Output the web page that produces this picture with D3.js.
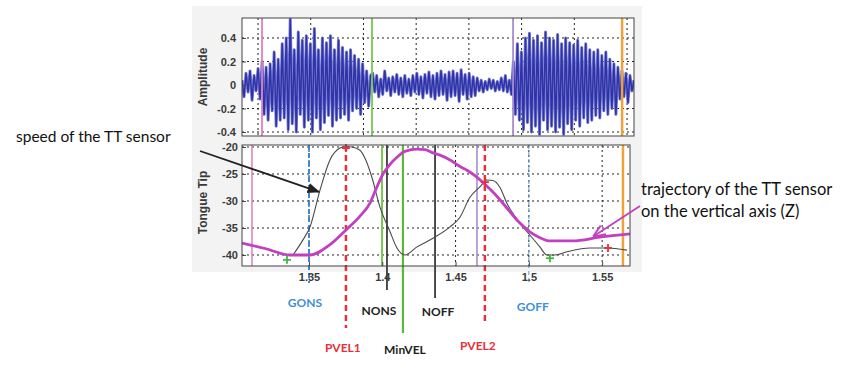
<!DOCTYPE html>
<html><head><meta charset="utf-8">
<script src="https://cdn.jsdelivr.net/npm/d3@7"></script>
<style>body{margin:0;background:#fff}svg{display:block}</style>
</head><body><div id="chart"></div>
<script>
// ---------- DATA ----------
// Top panel: audio waveform amplitude (successive extremes, evenly sampled)
const amplitude = [
 0.04,-0.10,0.10,-0.06,0.12,-0.13,0.08,-0.05,0.14,-0.12,
 0.20,-0.25,0.15,-0.30,0.18,-0.22,0.28,-0.35,0.22,-0.30,
 0.35,-0.28,0.40,-0.38,0.56,-0.33,0.30,-0.40,0.45,-0.25,
 0.38,-0.36,0.42,-0.30,0.35,-0.40,0.48,-0.28,0.30,-0.38,
 0.40,-0.32,0.36,-0.26,0.42,-0.35,0.30,-0.30,0.38,-0.28,
 0.32,-0.25,0.28,-0.30,0.30,-0.22,0.25,-0.20,0.22,-0.25,
 0.18,-0.15,0.12,-0.18,0.08,
 0.10,-0.06,0.08,-0.10,0.05,-0.08,0.12,-0.05,0.06,-0.09,
 0.07,-0.06,0.09,-0.08,0.06,-0.10,0.08,-0.07,0.05,-0.09,
 0.08,-0.06,0.10,-0.08,0.07,-0.11,0.09,-0.07,0.11,-0.10,
 0.08,-0.12,0.10,-0.09,0.12,-0.08,0.09,-0.13,0.11,-0.10,
 0.12,-0.09,0.10,-0.14,0.13,-0.08,0.09,-0.12,0.10,-0.10,
 0.07,-0.09,0.06,-0.05,0.04,-0.06,0.03,-0.04,0.05,-0.03,
 0.04,-0.05,0.03,-0.04,0.06,-0.05,0.08,-0.06,0.04,-0.08,
 0.20,-0.25,0.35,-0.30,0.28,-0.38,0.40,-0.32,0.44,-0.40,
 0.38,-0.35,0.42,-0.42,0.36,-0.30,0.45,-0.38,0.40,-0.35,
 0.38,-0.40,0.43,-0.36,0.35,-0.42,0.40,-0.33,0.36,-0.38,
 0.34,-0.30,0.38,-0.35,0.32,-0.28,0.35,-0.32,0.30,-0.30,
 0.28,-0.26,0.30,-0.28,0.25,-0.22,0.28,-0.25,0.22,-0.20,
 0.18,-0.25,0.15,-0.12,
 0.12,-0.10,0.10,-0.15,0.08,-0.05,0.04
];
const topTimeDomain = [1.2848, 1.6566];
const topGridTimes = [1.30,1.35,1.40,1.45,1.50,1.55,1.60,1.65];
const ampTicks = [0.4,0.2,0,-0.2,-0.4];
const ampTickLabels = ["0.4","0.2","0","-0.2","-0.4"];
const topMarkerTimes = [1.3038, 1.4081, 1.5419, 1.6453];
const topMarkerColors = ["#e07fbf","#77c94f","#a98bd0","#f0a23a"];

// Bottom panel: tongue tip trajectory (magenta) and speed (black)
const trajTime = [1.3043,1.32,1.337,1.3507,1.3643,1.3759,1.3848,1.3916,1.3957,1.4005,1.4053,1.41,1.4155,1.4237,1.4291,1.4346,1.4394,1.4462,1.453,1.4578,1.4632,1.47,1.4768,1.485,1.4925,1.5007,1.5076,1.5144,1.53,1.5485,1.569];
const trajValue = [-37.8,-38.8,-40.0,-40.0,-38.1,-35.2,-32.8,-30.4,-27.8,-25.0,-23.2,-21.9,-20.8,-20.4,-20.5,-21.1,-21.5,-22.4,-23.6,-24.3,-25.3,-26.9,-28.7,-31.3,-33.7,-35.7,-36.8,-37.4,-37.4,-36.7,-36.1];
const speedTime = [1.3391,1.3459,1.3507,1.3575,1.3643,1.3711,1.3752,1.3793,1.3848,1.3889,1.393,1.3984,1.4053,1.41,1.4155,1.4237,1.4346,1.4462,1.453,1.4598,1.4666,1.4714,1.4755,1.4803,1.485,1.4939,1.5007,1.5075,1.5123,1.5177,1.526,1.5417,1.5533,1.5669];
const speedValue = [-40.0,-37.2,-34.8,-28.0,-22.4,-20.2,-19.9,-20.0,-20.6,-22.5,-25.7,-31.1,-35.7,-38.7,-40.0,-38.5,-36.9,-34.8,-33.0,-29.3,-27.4,-26.1,-26.2,-27.5,-30.4,-34.1,-36.3,-38.5,-40.0,-40.0,-39.4,-38.7,-38.7,-39.1];
const bottomTimeDomain = [1.3043, 1.569];
const timeTicks = [1.35,1.40,1.45,1.50,1.55];
const timeTickLabels = ["1.35","1.4","1.45","1.5","1.55"];
const ttTicks = [-20,-25,-30,-35,-40];
const ttTickLabels = ["-20","-25","-30","-35","-40"];

// plus-markers on the speed curve
const markTime  = [1.335, 1.3752, 1.47, 1.5144, 1.554];
const markValue = [-40.9, -20.2, -26.5, -40.6, -38.7];
const markColor = ["#3fb83f","#e8303a","#e8303a","#3fb83f","#e8303a"];

// event lines in bottom panel
const eventTime  = [1.3111, 1.35, 1.3752, 1.3998, 1.4032, 1.4141, 1.436, 1.4646, 1.47, 1.5, 1.5642];
const eventLabel = ["", "GONS", "PVEL1", "", "NONS", "MinVEL", "NOFF", "", "PVEL2", "GOFF", ""];
const eventColor = ["#e07fbf","#3f86d0","#e8303a","#77c94f","#222","#5cb83c","#222","#a98bd0","#e8303a","#5b9bd8","#f0a23a"];
const eventWidth = [1.5, 2, 2.5, 2, 1.6, 2.2, 1.6, 1.6, 2.5, 1, 2.5];
const eventDash  = ["", "5,3", "6,4", "", "", "", "", "", "6,4", "4,3", ""];
const eventExtend= [0, 17, 62, 0, 24, 67, 32, 0, 59, 17, 0];
const labelY     = [0, 307, 352, 0, 315, 354, 316, 0, 350, 311, 0];
const labelDx    = [0, -4, -3, 0, -8, 2, 3, 0, -7, 4, 0];

// ---------- DRAW ----------
const W = 850, H = 370;
const svg = d3.select("#chart").append("svg").attr("width", W).attr("height", H);

svg.append("rect").attr("x",192).attr("y",6).attr("width",450).attr("height",266).attr("fill","#f3f3f3");

const pTop = {l:242, r:634, t:18, b:136};
const pBot = {l:242, r:630, t:145, b:266};

const xTop = d3.scaleLinear().domain(topTimeDomain).range([pTop.l, pTop.r]);
const xIdx = d3.scaleLinear().domain([0, amplitude.length-1]).range([pTop.l, pTop.r]);
const yAmp = d3.scaleLinear().domain([-0.434, 0.570]).range([pTop.b, pTop.t]);
const xBot = d3.scaleLinear().domain(bottomTimeDomain).range([pBot.l, pBot.r]);
const yTT  = d3.scaleLinear().domain([-42.04, -19.63]).range([pBot.b, pBot.t]);

const defs = svg.append("defs");
defs.append("clipPath").attr("id","cTop").append("rect").attr("x",pTop.l).attr("y",pTop.t).attr("width",pTop.r-pTop.l).attr("height",pTop.b-pTop.t);
defs.append("clipPath").attr("id","cBot").append("rect").attr("x",pBot.l).attr("y",pBot.t).attr("width",pBot.r-pBot.l).attr("height",pBot.b-pBot.t);
defs.append("marker").attr("id","arrBlack").attr("viewBox","0 0 10 10").attr("refX",9).attr("refY",5)
  .attr("markerWidth",7).attr("markerHeight",7).attr("orient","auto")
  .append("path").attr("d","M0,1 L10,5 L0,9 Z").attr("fill","#222");
defs.append("marker").attr("id","arrMag").attr("viewBox","0 0 10 10").attr("refX",9).attr("refY",5)
  .attr("markerWidth",7).attr("markerHeight",7).attr("orient","auto")
  .append("path").attr("d","M0,1 L10,5 L0,9").attr("fill","none").attr("stroke","#c23fc2").attr("stroke-width",1.5);

// panel backgrounds
[pTop, pBot].forEach(p => svg.append("rect").attr("x",p.l).attr("y",p.t).attr("width",p.r-p.l).attr("height",p.b-p.t).attr("fill","#fff"));

const gridStyle = sel => sel.attr("stroke","#222").attr("stroke-width",1).attr("stroke-dasharray","2,3");

// top grid
const gT = svg.append("g");
gT.selectAll("line.v").data(topGridTimes).join("line").attr("class","v").attr("x1",d=>xTop(d)).attr("x2",d=>xTop(d)).attr("y1",pTop.t).attr("y2",pTop.b).call(gridStyle);
gT.selectAll("line.h").data(ampTicks).join("line").attr("class","h").attr("x1",pTop.l).attr("x2",pTop.r).attr("y1",d=>yAmp(d)).attr("y2",d=>yAmp(d)).call(gridStyle);

// top waveform (light halo + dark stroke)
const wline = d3.line().x((d,i)=>xIdx(i)).y(d=>yAmp(d));
svg.append("path").datum(amplitude).attr("clip-path","url(#cTop)").attr("d", wline)
  .attr("fill","none").attr("stroke","#7b80d6").attr("stroke-width",3).attr("stroke-linejoin","round");
svg.append("path").datum(amplitude).attr("clip-path","url(#cTop)").attr("d", wline)
  .attr("fill","none").attr("stroke","#2f33a6").attr("stroke-width",1.5).attr("stroke-linejoin","round");

// top markers
svg.selectAll("line.tm").data(topMarkerTimes).join("line").attr("class","tm")
  .attr("x1",d=>xTop(d)).attr("x2",d=>xTop(d)).attr("y1",pTop.t).attr("y2",pTop.b)
  .attr("stroke",(d,i)=>topMarkerColors[i]).attr("stroke-width",(d,i)=>i===3?2.5:1.8);

// bottom grid
const gB = svg.append("g");
gB.selectAll("line.v").data(timeTicks).join("line").attr("class","v").attr("x1",d=>xBot(d)).attr("x2",d=>xBot(d)).attr("y1",pBot.t).attr("y2",pBot.b).call(gridStyle);
gB.selectAll("line.h").data(ttTicks).join("line").attr("class","h").attr("x1",pBot.l).attr("x2",pBot.r).attr("y1",d=>yTT(d)).attr("y2",d=>yTT(d)).call(gridStyle);

// event lines (some extend below the panel)
const ev = eventTime.map((t,i)=>({t, label:eventLabel[i], color:eventColor[i], w:eventWidth[i], dash:eventDash[i], ext:eventExtend[i], ly:labelY[i], dx:labelDx[i]}));
svg.selectAll("line.ev").data(ev).join("line").attr("class","ev")
  .attr("x1",d=>xBot(d.t)).attr("x2",d=>xBot(d.t))
  .attr("y1",pBot.t).attr("y2",d=>pBot.b + d.ext)
  .attr("stroke",d=>d.color).attr("stroke-width",d=>d.w).attr("stroke-dasharray",d=>d.dash||null);

// curves
const trajData = trajTime.map((t,i)=>[t, trajValue[i]]);
const speedData = speedTime.map((t,i)=>[t, speedValue[i]]);
const line = d3.line().x(d=>xBot(d[0])).y(d=>yTT(d[1])).curve(d3.curveMonotoneX);
svg.append("path").datum(speedData).attr("clip-path","url(#cBot)").attr("d",line)
  .attr("fill","none").attr("stroke","#4a4a4a").attr("stroke-width",1.1);
svg.append("path").datum(trajData).attr("clip-path","url(#cBot)").attr("d",line)
  .attr("fill","none").attr("stroke","#c23fc2").attr("stroke-width",2.8);

// plus markers
const marks = markTime.map((t,i)=>({t, v:markValue[i], c:markColor[i]}));
const mg = svg.selectAll("g.mk").data(marks).join("g").attr("class","mk").attr("transform",d=>`translate(${xBot(d.t)},${yTT(d.v)})`);
mg.append("line").attr("x1",-4).attr("x2",4).attr("y1",0).attr("y2",0).attr("stroke",d=>d.c).attr("stroke-width",1.8);
mg.append("line").attr("x1",0).attr("x2",0).attr("y1",-4).attr("y2",4).attr("stroke",d=>d.c).attr("stroke-width",1.8);

// axes boxes and ticks
function box(p){
  svg.append("rect").attr("x",p.l).attr("y",p.t).attr("width",p.r-p.l).attr("height",p.b-p.t)
    .attr("fill","none").attr("stroke","#444").attr("stroke-width",1);
}
box(pTop); box(pBot);

const tickFont = "'Liberation Sans', Arial, sans-serif";
const yAxisTop = d3.axisLeft(yAmp).tickValues(ampTicks).tickSize(-4).tickPadding(6).tickFormat((d,i)=>ampTickLabels[i]);
const gyT = svg.append("g").attr("transform",`translate(${pTop.l},0)`).call(yAxisTop);
const yAxisBot = d3.axisLeft(yTT).tickValues(ttTicks).tickSize(-4).tickPadding(4).tickFormat((d,i)=>ttTickLabels[i]);
const gyB = svg.append("g").attr("transform",`translate(${pBot.l},0)`).call(yAxisBot);
const xAxisBot = d3.axisBottom(xBot).tickValues(timeTicks).tickSize(-4).tickPadding(7).tickFormat((d,i)=>timeTickLabels[i]);
const gxB = svg.append("g").attr("transform",`translate(0,${pBot.b})`).call(xAxisBot);
[gyT, gyB, gxB].forEach(g=>{
  g.select(".domain").remove();
  g.selectAll(".tick line").attr("stroke","#444");
  g.selectAll("text").attr("font-family",tickFont).attr("font-size",11).attr("font-weight","bold").attr("fill","#3a3a3a");
});

// axis titles
svg.append("text").attr("transform",`translate(207,${(pTop.t+pTop.b)/2}) rotate(-90)`).attr("text-anchor","middle")
  .attr("font-family",tickFont).attr("font-size",12).attr("font-weight","bold").attr("fill","#3a3a3a").text("Amplitude");
svg.append("text").attr("transform",`translate(207,${(pBot.t+pBot.b)/2 - 3}) rotate(-90)`).attr("text-anchor","middle")
  .attr("font-family",tickFont).attr("font-size",12).attr("font-weight","bold").attr("fill","#3a3a3a").text("Tongue Tip");

// event labels
svg.selectAll("text.evl").data(ev.filter(d=>d.label)).join("text").attr("class","evl")
  .attr("x",d=>xBot(d.t)+d.dx).attr("y",d=>d.ly).attr("text-anchor","middle")
  .attr("font-family","Lato, 'Open Sans', sans-serif").attr("font-size",12).attr("font-weight","bold")
  .attr("fill",d=>d.label.startsWith("G") ? "#3d8fd8" : d.label.startsWith("P") ? "#e8303a" : "#222")
  .text(d=>d.label);

// annotations
const annFont = "Lato, 'Open Sans', sans-serif";
svg.append("text").attr("x",16).attr("y",142).attr("font-family",annFont).attr("font-size",15.5).attr("fill","#111").text("speed of the TT sensor");
svg.append("line").attr("x1",200).attr("y1",151).attr("x2",xBot(1.3568)).attr("y2",yTT(-28.3))
  .attr("stroke","#222").attr("stroke-width",1.8).attr("marker-end","url(#arrBlack)");

svg.append("text").attr("x",641).attr("y",195).attr("font-family",annFont).attr("font-size",16.5).attr("fill","#111").text("trajectory of the TT sensor");
svg.append("text").attr("x",641).attr("y",217).attr("font-family",annFont).attr("font-size",16.5).attr("fill","#111").text("on the vertical axis (Z)");
svg.append("line").attr("x1",640).attr("y1",206).attr("x2",xBot(1.5444)).attr("y2",yTT(-36.5))
  .attr("stroke","#c23fc2").attr("stroke-width",1.8).attr("marker-end","url(#arrMag)");
</script>
</body></html>
